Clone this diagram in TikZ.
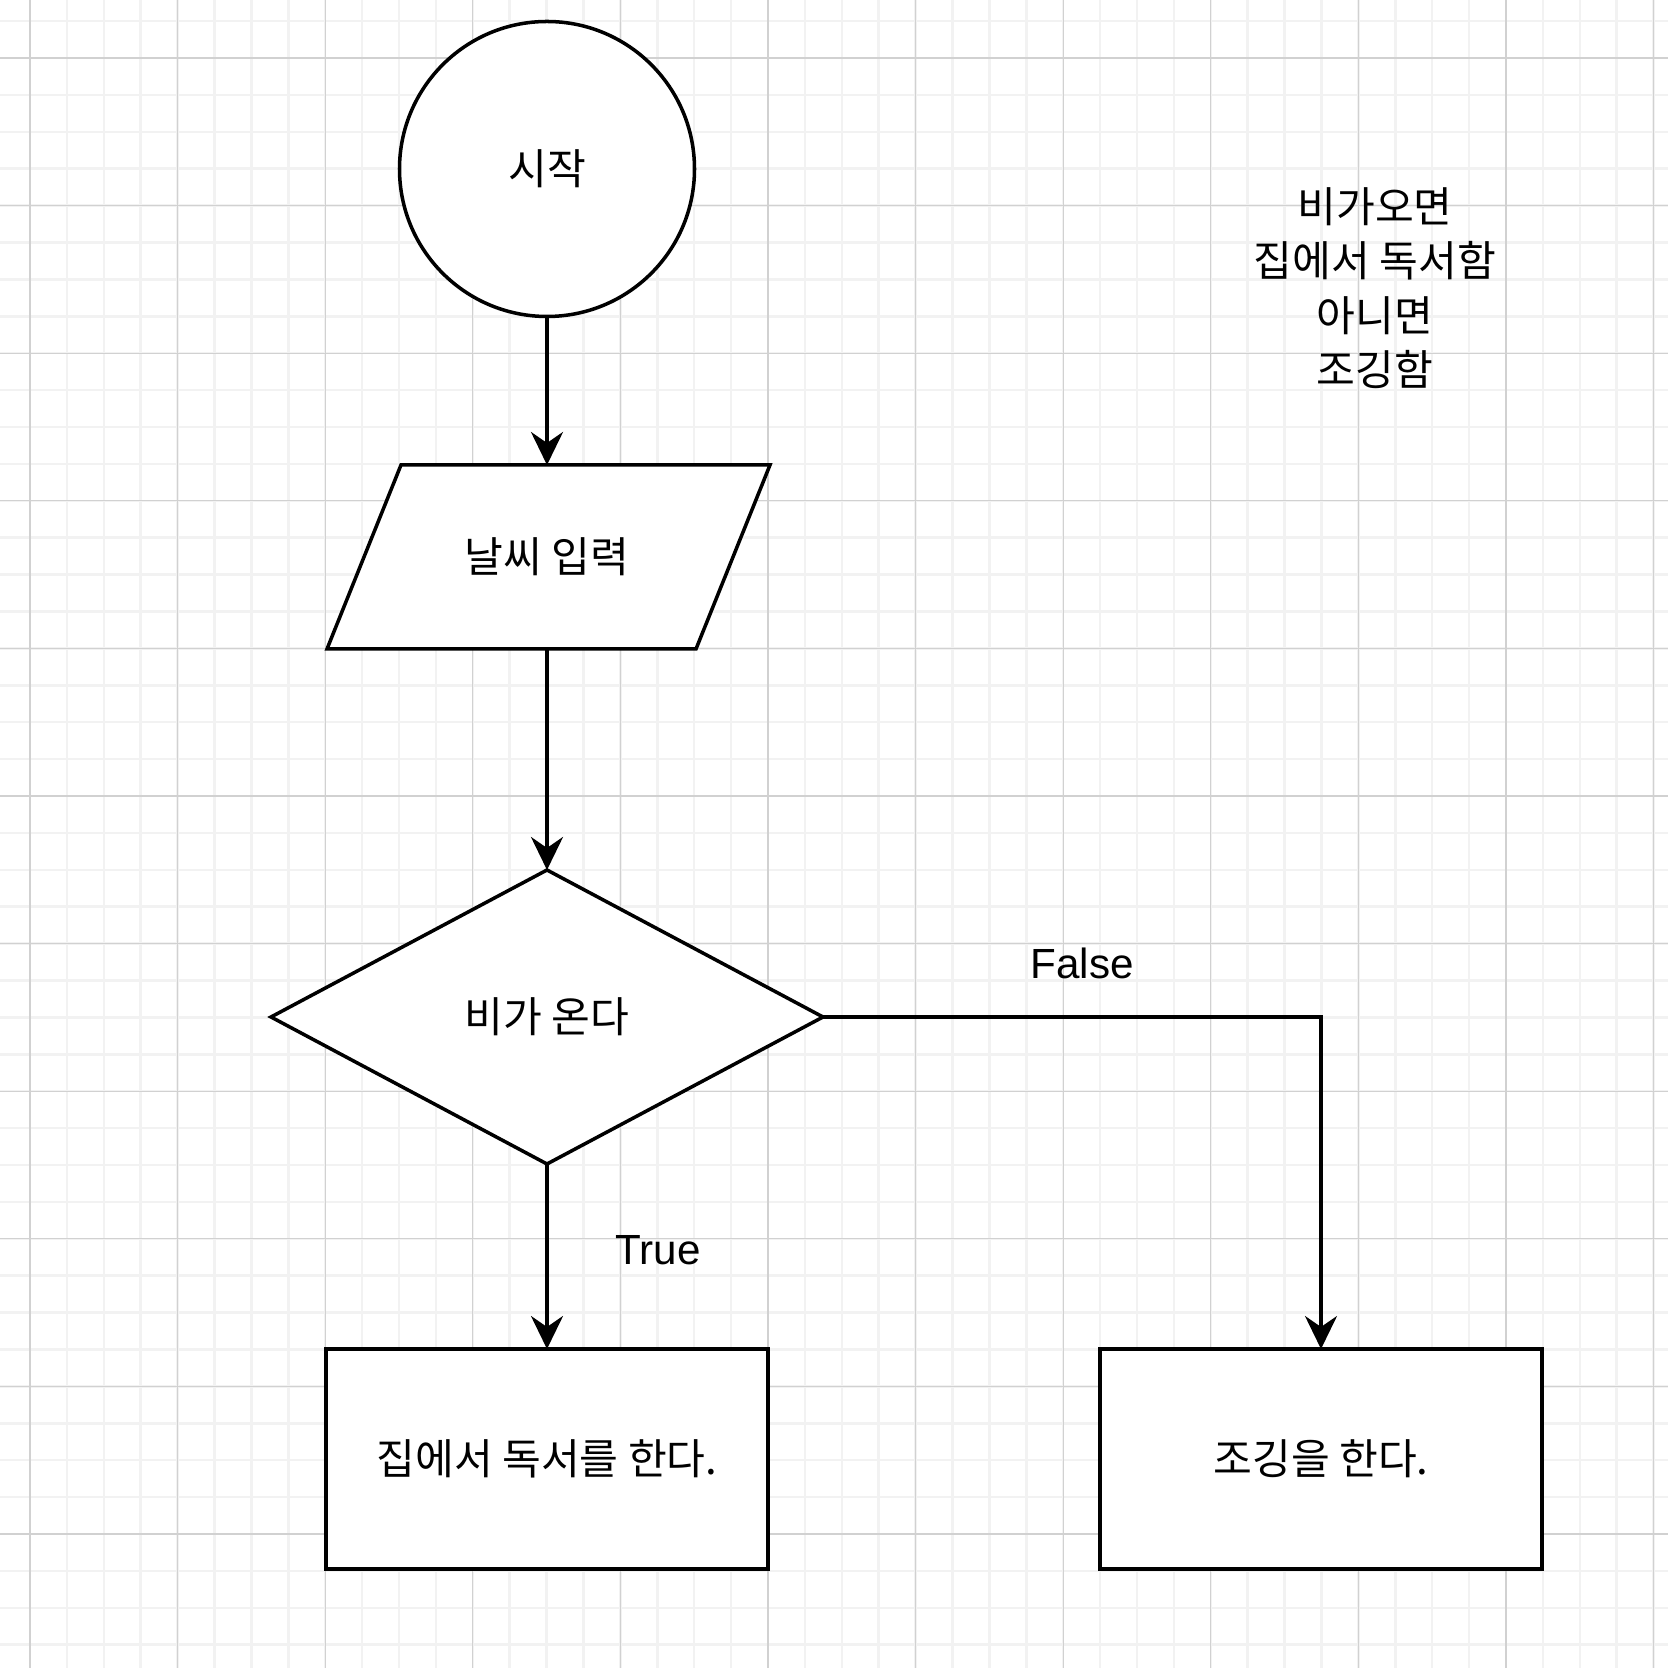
\documentclass[tikz,border=0pt]{standalone}
\usepackage{fontspec}
\setmainfont{Noto Sans CJK KR}
\newfontfamily\labelfont{Liberation Sans}
\usepackage{tikz}
\usetikzlibrary{shapes.geometric, arrows.meta, positioning}

\begin{document}
\begin{tikzpicture}
[
  every node/.style={inner sep=1pt, outer sep=0pt, font=\fontsize{12}{15.5}\selectfont, align=center},
  shapeline/.style={draw=black, line width=1pt, fill=white},
  startnode/.style={shapeline, circle, minimum size=2.95cm},
  inputnode/.style={rectangle, minimum width=4.43cm, minimum height=1.84cm},
  testnode/.style={shapeline, diamond, minimum width=5.52cm, minimum height=2.94cm},
  actnode/.style={shapeline, rectangle, minimum width=4.42cm, minimum height=2.2cm},
  flow/.style={draw, line width=1pt, -{Stealth[length=0.33cm, width=0.32cm, inset=0.11cm]}},
  gridminor/.style={draw=black!5, line width=0.7pt},
  gridmajor/.style={draw=black!18, line width=0.35pt}
]

\useasboundingbox (0,0) rectangle (16.68,16.68);
\fill[white] (0,0) rectangle (16.68,16.68);
\begin{scope}
\clip (0,0) rectangle (16.68,16.68);
\draw[gridminor, shift={(0.30,16.10)}] (-1.476,-17.712) grid[step=0.369] (17.712,1.476);
\draw[gridmajor, shift={(0.30,16.10)}] (-1.476,-17.712) grid[step=1.476] (17.712,1.476);
\end{scope}

\draw[shapeline] (4.01,12.03) -- (7.70,12.03) -- (6.96,10.19) -- (3.27,10.19) -- cycle;

\node[startnode] (1) at (5.47,14.99) {시작};
\node[inputnode] (2) at (5.47,11.11) {날씨 입력};
\node[testnode] (3) at (5.47,6.51) {비가 온다};
\node[actnode] (4) at (5.47,2.09) {집에서 독서를 한다.};
\node[actnode] (5) at (13.21,2.09) {조깅을 한다.};
\node (6) at (13.75,13.80) {비가오면\\집에서 독서함\\아니면\\조깅함};
\node[font=\labelfont\fontsize{12}{14}\selectfont] (7) at (10.82,7.05) {False};
\node[font=\labelfont\fontsize{12}{14}\selectfont] (8) at (6.58,4.18) {True};

\draw[flow] (1) -- (2);
\draw[flow] (2) -- (3);
\draw[flow] (3) -- (4);
\draw[flow] (3.east) -| (5.north);
\end{tikzpicture}
\end{document}
